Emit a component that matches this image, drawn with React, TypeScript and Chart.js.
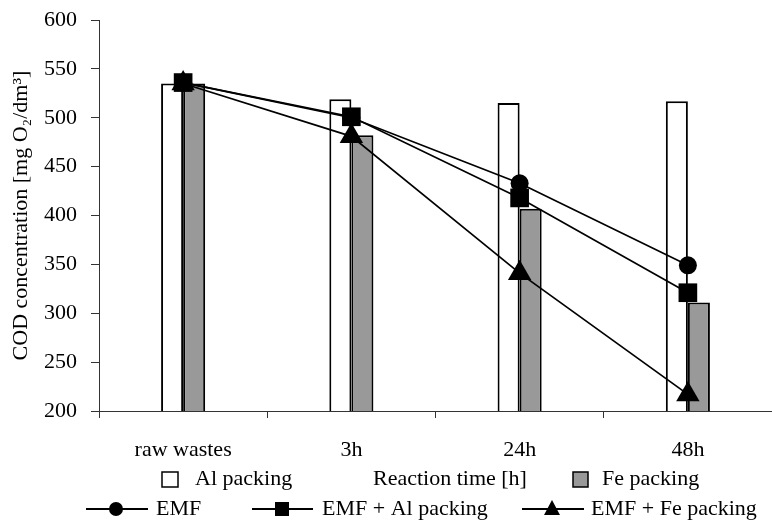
import React, { useEffect, useRef } from 'react';
import { Chart, registerables } from 'chart.js';

Chart.register(...registerables);

// ---- data ----
const categories = ['raw wastes', '3h', '24h', '48h'];
const alPacking = [535, 519, 515, 517];
const fePacking = [535, 482, 407, 311];
const emf = [536, 500, 433, 349];
const emfAl = [536, 501, 418, 321];
const emfFe = [535, 481, 341, 217];
const yMin = 200;
const yMax = 600;
const yStep = 50;
const xTitle = 'Reaction time [h]';
const yTitle = 'COD concentration [mg O\u2082/dm\u00b3]';

const FONT = '"Liberation Serif", "Times New Roman", serif';
const GRAY = '#999999';

const legendPlugin = {
  id: 'customLegend',
  afterDraw(chart: any) {
    const ctx = chart.ctx as CanvasRenderingContext2D;
    const ds = chart.data.datasets;
    ctx.save();
    ctx.font = `22px ${FONT}`;
    ctx.textBaseline = 'middle';
    ctx.textAlign = 'left';
    ctx.strokeStyle = '#000';
    ctx.lineWidth = 1.5;
    const y1 = 479;
    const y2 = 509;

    // row 1: Al packing box
    ctx.fillStyle = '#fff';
    ctx.fillRect(162, 472, 16, 15);
    ctx.strokeRect(162, 472, 16, 15);
    ctx.fillStyle = '#000';
    ctx.fillText(ds[0].label, 195, y1);

    // x axis title sits in the middle of legend row 1
    ctx.fillText(xTitle, 373, y1);

    // Fe packing box
    ctx.fillStyle = GRAY;
    ctx.fillRect(573, 472, 15, 15);
    ctx.strokeRect(573, 472, 15, 15);
    ctx.fillStyle = '#000';
    ctx.fillText(ds[1].label, 602, y1);

    // row 2: line legends
    const items = [
      { x0: 86, x1: 148, mx: 116, tx: 156, style: 'circle', label: ds[2].label },
      { x0: 252, x1: 313, mx: 282, tx: 322, style: 'rect', label: ds[3].label },
      { x0: 522, x1: 584, mx: 552, tx: 591, style: 'triangle', label: ds[4].label },
    ];
    for (const it of items) {
      ctx.strokeStyle = '#000';
      ctx.lineWidth = 2;
      ctx.beginPath();
      ctx.moveTo(it.x0, y2);
      ctx.lineTo(it.x1, y2);
      ctx.stroke();
      ctx.fillStyle = '#000';
      ctx.beginPath();
      if (it.style === 'circle') {
        ctx.arc(it.mx, y2, 7, 0, Math.PI * 2);
      } else if (it.style === 'rect') {
        ctx.rect(it.mx - 7, y2 - 7, 14, 14);
      } else {
        ctx.moveTo(it.mx, y2 - 9);
        ctx.lineTo(it.mx + 8, y2 + 6);
        ctx.lineTo(it.mx - 8, y2 + 6);
        ctx.closePath();
      }
      ctx.fill();
      ctx.fillText(it.label, it.tx, y2);
    }
    ctx.restore();
  },
};

export default function App() {
  const ref = useRef<HTMLCanvasElement | null>(null);

  useEffect(() => {
    if (!ref.current) return;
    const lineDs = (label: string, data: number[], style: string, r: number) => ({
      type: 'line' as const,
      label,
      data,
      borderColor: '#000',
      backgroundColor: '#000',
      borderWidth: 1.7,
      pointStyle: style,
      pointRadius: r,
      pointHoverRadius: r,
      pointBackgroundColor: '#000',
      pointBorderColor: '#000',
      pointBorderWidth: 0,
      tension: 0,
      fill: false,
      clip: false,
      order: 1,
    });
    const chart = new Chart(ref.current, {
      type: 'bar',
      data: {
        labels: categories,
        datasets: [
          {
            type: 'bar',
            label: 'Al packing',
            data: alPacking,
            backgroundColor: '#ffffff',
            borderColor: '#000',
            borderWidth: 2,
            categoryPercentage: 0.262,
            barPercentage: 1,
            order: 2,
          },
          {
            type: 'bar',
            label: 'Fe packing',
            data: fePacking,
            backgroundColor: GRAY,
            borderColor: '#000',
            borderWidth: 2,
            categoryPercentage: 0.262,
            barPercentage: 1,
            order: 2,
          },
          lineDs('EMF', emf, 'circle', 9),
          lineDs('EMF + Al packing', emfAl, 'rect', 13.2),
          lineDs('EMF + Fe packing', emfFe, 'triangle', 13.5),
        ] as any,
      },
      options: {
        responsive: false,
        animation: false,
        events: [],
        layout: { autoPadding: false, padding: { top: 20, right: 0, bottom: 0, left: 0 } },
        plugins: {
          legend: { display: false },
          tooltip: { enabled: false },
        },
        scales: {
          x: {
            offset: true,
            grid: {
              offset: true,
              drawOnChartArea: false,
              drawTicks: true,
              tickLength: 7,
              color: '#333',
            },
            border: { display: true, color: '#333', width: 1 },
            ticks: {
              color: '#000',
              font: { family: FONT, size: 22 },
              padding: 19,
              maxRotation: 0,
              autoSkip: false,
            },
            afterFit: (s: any) => {
              s.height = 113;
              s.paddingLeft = 0;
              s.paddingRight = 0;
            },
          },
          y: {
            min: yMin,
            max: yMax,
            grid: {
              drawOnChartArea: false,
              drawTicks: true,
              tickLength: 8,
              color: '#333',
            },
            border: { display: true, color: '#333', width: 1 },
            ticks: {
              stepSize: yStep,
              color: '#000',
              font: { family: FONT, size: 22 },
              padding: 14,
            },
            title: {
              display: true,
              text: yTitle,
              color: '#000',
              font: { family: FONT, size: 22 },
              padding: { top: 8, bottom: 0 },
            },
            afterFit: (s: any) => {
              s.width = 99;
              s.paddingTop = 0;
              s.paddingBottom = 0;
            },
          },
        },
      },
      plugins: [legendPlugin],
    });
    return () => chart.destroy();
  }, []);

  return (
    <div style={{ position: 'fixed', left: 0, top: 0, width: 772, height: 524, background: '#fff' }}>
      <canvas ref={ref} width={772} height={524} style={{ display: 'block' }} />
    </div>
  );
}
